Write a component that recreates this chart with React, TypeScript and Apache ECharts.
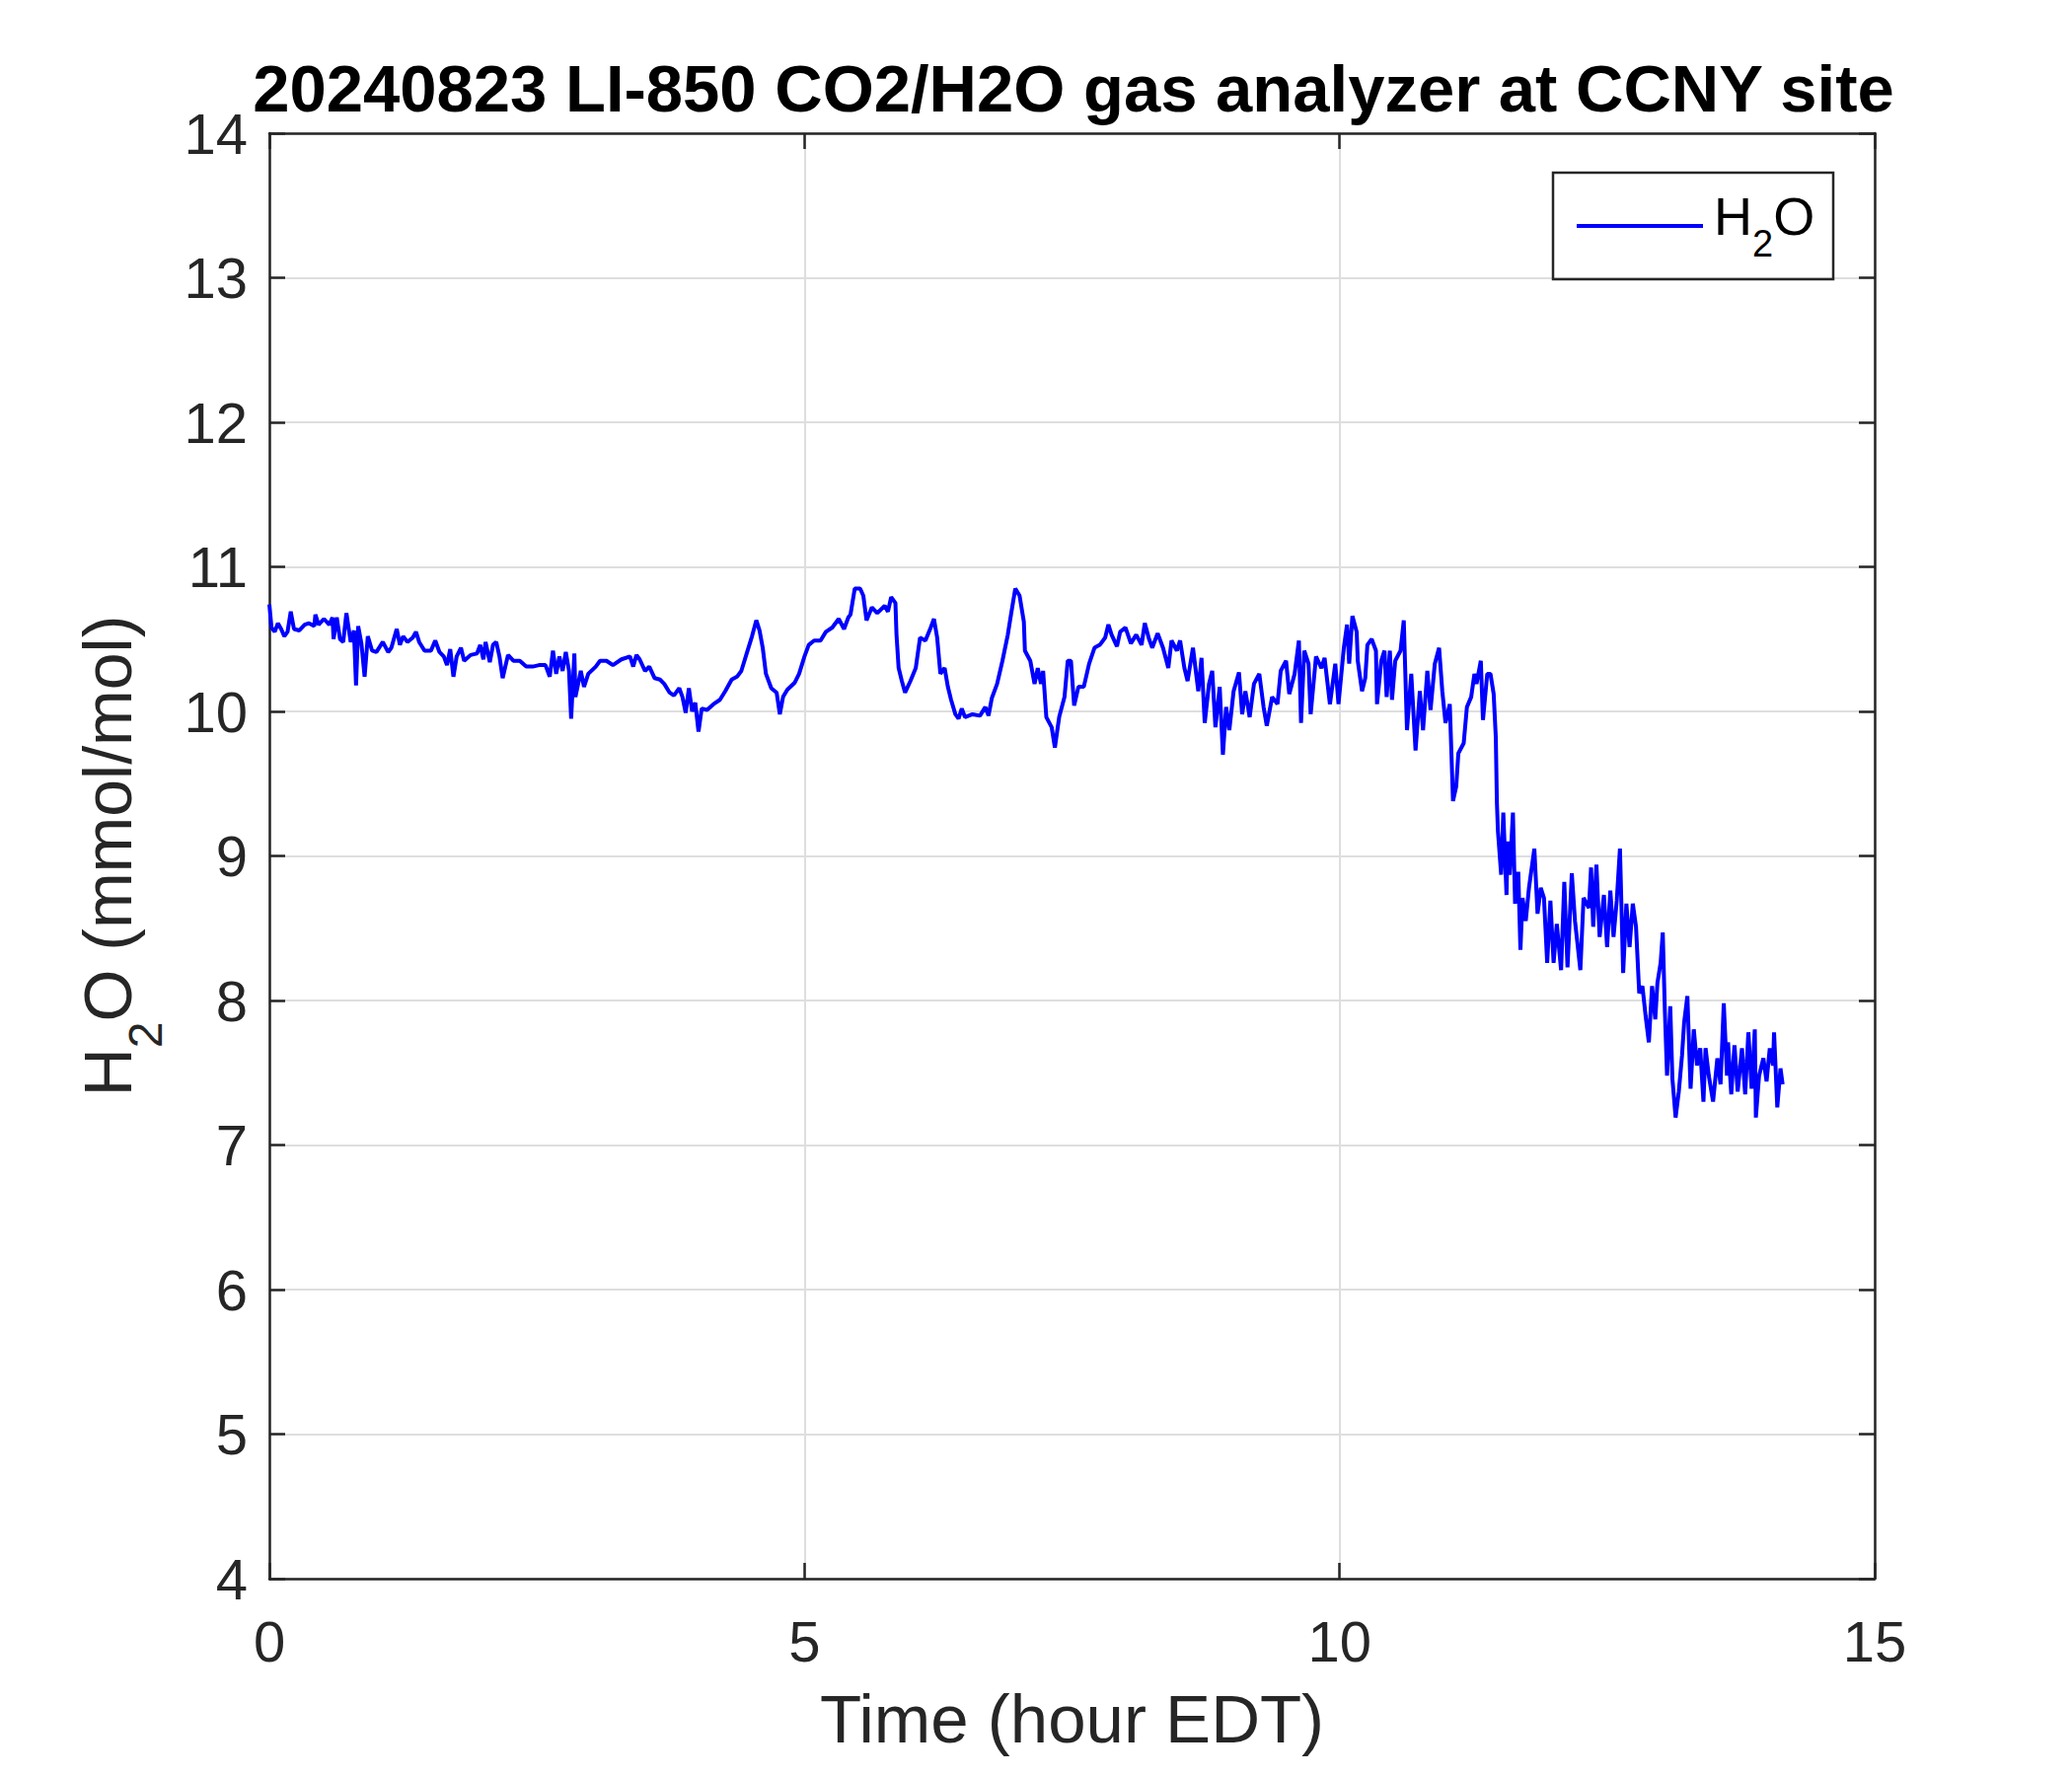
import React, { useEffect, useRef } from "react";
import * as echarts from "echarts";

const chartTitle = "20240823 LI-850 CO2/H2O gas analyzer at CCNY site";
const xAxisTitle = "Time (hour EDT)";
const yAxisTitleRich = "{a|H}{b|2}{a|O (mmol/mol)}";
const legendLabelRich = "{f|H}{b|2}{a|O}";
const seriesName = "H2O";
const xRange = [0, 15];
const xStep = 5;
const yRange = [4, 14];
const yStep = 1;

// [time (hour EDT), H2O (mmol/mol)]
const h2oEarly: [number, number][] = [
  [0.0, 10.74], [0.02, 10.58], [0.05, 10.55], [0.08, 10.61], [0.11, 10.57], [0.14, 10.52], [0.17, 10.55],
  [0.2, 10.69], [0.23, 10.57], [0.28, 10.56], [0.33, 10.6], [0.37, 10.61], [0.42, 10.59], [0.43, 10.67],
  [0.46, 10.6], [0.51, 10.64], [0.56, 10.6], [0.59, 10.65], [0.6, 10.5], [0.63, 10.65], [0.66, 10.5],
  [0.69, 10.48], [0.72, 10.68], [0.76, 10.48], [0.79, 10.56], [0.81, 10.18], [0.83, 10.59], [0.86, 10.47],
  [0.89, 10.24], [0.92, 10.52], [0.96, 10.42], [1.0, 10.41], [1.06, 10.48], [1.11, 10.41], [1.14, 10.44],
  [1.19, 10.57], [1.22, 10.46], [1.25, 10.52], [1.29, 10.48], [1.34, 10.51], [1.37, 10.55], [1.4, 10.48],
  [1.45, 10.42], [1.51, 10.42], [1.55, 10.49], [1.59, 10.41], [1.63, 10.38], [1.66, 10.32], [1.69, 10.43],
  [1.72, 10.24], [1.75, 10.38], [1.79, 10.44], [1.82, 10.35], [1.88, 10.39], [1.94, 10.4], [1.97, 10.46],
  [2.0, 10.36], [2.02, 10.48], [2.06, 10.34], [2.09, 10.46], [2.12, 10.48], [2.15, 10.38], [2.18, 10.23],
  [2.23, 10.39], [2.28, 10.35], [2.34, 10.35], [2.4, 10.31], [2.46, 10.31], [2.52, 10.32], [2.58, 10.32],
  [2.62, 10.24],
];

const h2oLateNight: [number, number][] = [
  [2.65, 10.42], [2.68, 10.26], [2.71, 10.38], [2.74, 10.28], [2.77, 10.41], [2.8, 10.28], [2.82, 9.95],
  [2.85, 10.4], [2.86, 10.1], [2.91, 10.28], [2.94, 10.17], [2.98, 10.26], [3.05, 10.31], [3.09, 10.35],
  [3.15, 10.35], [3.21, 10.32], [3.29, 10.36], [3.37, 10.38], [3.4, 10.31], [3.43, 10.39], [3.46, 10.36],
  [3.51, 10.28], [3.55, 10.31], [3.6, 10.23], [3.65, 10.22], [3.69, 10.19], [3.74, 10.13], [3.78, 10.11],
  [3.83, 10.16], [3.86, 10.1], [3.89, 9.99], [3.92, 10.16], [3.95, 10.0], [3.98, 10.06], [4.01, 9.86],
  [4.04, 10.02], [4.09, 10.01], [4.15, 10.05], [4.21, 10.08], [4.26, 10.14], [4.32, 10.22], [4.37, 10.24],
  [4.41, 10.28], [4.46, 10.4], [4.51, 10.52], [4.55, 10.63], [4.58, 10.56], [4.61, 10.44], [4.64, 10.26],
  [4.69, 10.16], [4.74, 10.13], [4.77, 9.98], [4.8, 10.1], [4.84, 10.15], [4.91, 10.2], [4.95, 10.26],
  [5.0, 10.38], [5.04, 10.46], [5.09, 10.49], [5.15, 10.49], [5.2, 10.55], [5.26, 10.58], [5.32, 10.64],
  [5.37, 10.57], [5.41, 10.65],
];

const h2oMorning: [number, number][] = [
  [5.43, 10.67], [5.47, 10.85], [5.52, 10.85], [5.55, 10.8], [5.58, 10.63],
  [5.63, 10.72], [5.68, 10.68], [5.75, 10.73], [5.78, 10.69], [5.81, 10.79], [5.85, 10.75], [5.86, 10.53],
  [5.88, 10.3], [5.91, 10.21], [5.94, 10.13], [5.99, 10.21], [6.04, 10.3], [6.08, 10.51], [6.13, 10.49],
  [6.18, 10.58], [6.21, 10.64], [6.24, 10.51], [6.27, 10.26], [6.31, 10.3], [6.34, 10.17], [6.37, 10.08],
  [6.41, 9.98], [6.44, 9.95], [6.47, 10.02], [6.5, 9.96], [6.57, 9.98], [6.64, 9.97], [6.69, 10.03],
  [6.72, 9.97], [6.75, 10.09], [6.8, 10.19], [6.85, 10.35], [6.9, 10.53], [6.93, 10.67], [6.97, 10.85],
  [7.01, 10.8], [7.05, 10.62], [7.06, 10.42], [7.11, 10.35], [7.15, 10.19], [7.18, 10.3], [7.21, 10.19],
  [7.23, 10.28], [7.26, 9.96], [7.31, 9.89], [7.34, 9.75], [7.38, 9.96], [7.43, 10.1], [7.46, 10.35],
  [7.49, 10.35], [7.52, 10.04], [7.56, 10.17], [7.61, 10.17], [7.66, 10.33], [7.71, 10.44], [7.76, 10.46],
  [7.81, 10.51], [7.84, 10.6], [7.87, 10.53], [7.92, 10.45], [7.95, 10.55], [8.0, 10.58], [8.05, 10.47],
  [8.1, 10.53], [8.15, 10.46], [8.18, 10.61], [8.22, 10.5], [8.25, 10.44], [8.3, 10.54], [8.35, 10.44],
  [8.4, 10.3], [8.43, 10.49], [8.48, 10.42], [8.51, 10.49], [8.55, 10.3], [8.58, 10.21], [8.63, 10.44],
  [8.68, 10.14], [8.71, 10.37], [8.74, 9.92], [8.78, 10.19], [8.81, 10.28], [8.84, 9.89], [8.88, 10.17],
  [8.91, 9.7], [8.94, 10.03], [8.97, 9.87], [9.01, 10.14], [9.06, 10.27], [9.09, 9.98], [9.12, 10.14],
  [9.16, 9.96], [9.2, 10.19], [9.25, 10.26], [9.29, 10.03], [9.32, 9.9], [9.37, 10.1], [9.42, 10.05],
  [9.45, 10.28], [9.5, 10.35], [9.53, 10.12], [9.58, 10.26], [9.62, 10.49], [9.64, 9.92], [9.67, 10.42],
  [9.71, 10.33], [9.73, 9.98], [9.78, 10.38], [9.83, 10.3], [9.86, 10.37], [9.91, 10.05], [9.96, 10.33],
  [9.99, 10.05],
];

const h2oMidday: [number, number][] = [
  [10.04, 10.44], [10.07, 10.6], [10.09, 10.33], [10.12, 10.66], [10.16, 10.55], [10.17, 10.35],
  [10.21, 10.14], [10.24, 10.23], [10.26, 10.46], [10.3, 10.5], [10.34, 10.42], [10.35, 10.05],
  [10.39, 10.35], [10.42, 10.42], [10.44, 10.1], [10.47, 10.42], [10.49, 10.08], [10.52, 10.35],
  [10.57, 10.42], [10.6, 10.63], [10.63, 9.87], [10.67, 10.26], [10.71, 9.73], [10.75, 10.14],
  [10.78, 9.87], [10.82, 10.28], [10.85, 10.01], [10.89, 10.33], [10.93, 10.44], [10.96, 10.14],
  [10.99, 9.92], [11.03, 10.05], [11.06, 9.38], [11.09, 9.48], [11.11, 9.71], [11.16, 9.78],
  [11.19, 10.03], [11.23, 10.1], [11.26, 10.26], [11.28, 10.19], [11.32, 10.35], [11.34, 9.94],
  [11.38, 10.26], [11.41, 10.26], [11.44, 10.12], [11.46, 9.82], [11.47, 9.37],
];

const h2oAfternoon: [number, number][] = [
  [11.48, 9.17], [11.51, 8.87], [11.53, 9.3], [11.56, 8.73], [11.57, 9.1], [11.59, 8.87], [11.62, 9.3],
  [11.64, 8.67], [11.67, 8.89], [11.69, 8.35], [11.71, 8.71], [11.74, 8.55], [11.77, 8.78], [11.82, 9.05],
  [11.85, 8.6], [11.88, 8.78], [11.91, 8.71], [11.94, 8.26], [11.97, 8.69], [12.0, 8.26], [12.03, 8.53],
  [12.07, 8.21], [12.1, 8.82], [12.13, 8.23], [12.17, 8.88], [12.2, 8.55], [12.25, 8.21], [12.28, 8.71],
  [12.33, 8.64], [12.35, 8.92], [12.37, 8.51], [12.4, 8.94], [12.43, 8.44], [12.47, 8.73], [12.5, 8.37],
  [12.53, 8.76], [12.56, 8.44], [12.59, 8.69], [12.62, 9.05], [12.65, 8.19], [12.68, 8.67], [12.71, 8.37],
  [12.74, 8.67], [12.77, 8.51], [12.8, 8.05], [12.83, 8.1], [12.86, 7.89], [12.89, 7.71], [12.92, 8.1],
  [12.95, 7.87], [12.97, 8.12], [13.0, 8.26], [13.02, 8.47], [13.04, 7.92], [13.06, 7.48], [13.09, 7.96],
  [13.11, 7.46], [13.14, 7.19], [13.17, 7.37], [13.2, 7.62], [13.22, 7.85], [13.25, 8.03], [13.28, 7.39],
  [13.31, 7.8], [13.34, 7.55], [13.37, 7.67], [13.4, 7.3], [13.42, 7.67], [13.45, 7.48], [13.49, 7.3],
  [13.53, 7.6], [13.56, 7.42], [13.59, 7.98], [13.62, 7.48], [13.63, 7.71], [13.66, 7.35], [13.69, 7.69],
  [13.72, 7.37], [13.76, 7.67], [13.79, 7.35], [13.82, 7.78], [13.85, 7.39], [13.88, 7.8], [13.89, 7.19],
  [13.92, 7.48], [13.96, 7.6], [13.99, 7.44], [14.02, 7.67], [14.05, 7.55], [14.06, 7.78], [14.09, 7.26],
  [14.12, 7.53], [14.14, 7.42],
];

const FONT = '"Liberation Sans", Arial, Helvetica, sans-serif';
const AXIS_COLOR = "#262626";
const GRID_COLOR = "#dedede";
const LINE_COLOR = "#0000ff";

export default function App() {
  const ref = useRef<HTMLDivElement>(null);

  useEffect(() => {
    if (!ref.current) return;
    const chart = echarts.init(ref.current, null, { renderer: "svg" });
    const data = [...h2oEarly, ...h2oLateNight, ...h2oMorning, ...h2oMidday, ...h2oAfternoon];

    const axisLine = { show: true, onZero: false, lineStyle: { color: AXIS_COLOR, width: 2.5 } };
    const axisTick = { show: true, inside: true, length: 16, lineStyle: { color: AXIS_COLOR, width: 2.5 } };

    chart.setOption({
      animation: false,
      backgroundColor: "#ffffff",
      grid: { left: 273, right: 200, top: 135, bottom: 200, containLabel: false },
      xAxis: [
        {
          type: "value",
          position: "bottom",
          min: xRange[0],
          max: xRange[1],
          interval: xStep,
          name: xAxisTitle,
          nameLocation: "middle",
          nameGap: 108,
          nameTextStyle: { fontSize: 69, color: AXIS_COLOR, fontFamily: FONT },
          axisLine,
          axisTick,
          axisLabel: { fontSize: 58, color: AXIS_COLOR, fontFamily: FONT, margin: 34 },
          splitLine: { show: true, lineStyle: { color: GRID_COLOR, width: 2 } },
        },
        {
          type: "value",
          position: "top",
          min: xRange[0],
          max: xRange[1],
          interval: xStep,
          axisLine,
          axisTick,
          axisLabel: { show: false },
          splitLine: { show: false },
        },
      ],
      yAxis: [
        {
          type: "value",
          position: "left",
          min: yRange[0],
          max: yRange[1],
          interval: yStep,
          name: yAxisTitleRich,
          nameLocation: "middle",
          nameRotate: 90,
          nameGap: 102,
          nameTextStyle: {
            fontSize: 68,
            color: AXIS_COLOR,
            fontFamily: FONT,
            rich: {
              a: { fontSize: 68, fontFamily: FONT, color: AXIS_COLOR, padding: [0, 0, 28, 0], verticalAlign: "bottom" },
              b: { fontSize: 48, fontFamily: FONT, color: AXIS_COLOR, verticalAlign: "bottom" },
            },
          },
          axisLine,
          axisTick,
          axisLabel: { fontSize: 58, lineHeight: 40, color: AXIS_COLOR, fontFamily: FONT, margin: 22 },
          splitLine: { show: true, lineStyle: { color: GRID_COLOR, width: 2 } },
        },
        {
          type: "value",
          position: "right",
          min: yRange[0],
          max: yRange[1],
          interval: yStep,
          axisLine,
          axisTick,
          axisLabel: { show: false },
          splitLine: { show: false },
        },
      ],
      legend: {
        show: true,
        left: 1598,
        top: 192,
        padding: 0,
        icon: "rect",
        itemWidth: 128,
        itemHeight: 4,
        selectedMode: false,
        itemStyle: { color: LINE_COLOR, borderWidth: 0 },
        data: [{ name: seriesName, icon: "rect" }],
        formatter: () => legendLabelRich,
        textStyle: {
          fontSize: 54,
          color: "#000",
          fontFamily: FONT,
          rich: {
            f: { fontSize: 54, fontFamily: FONT, color: "#000", padding: [0, 0, 20, 6], verticalAlign: "bottom" },
            a: { fontSize: 54, fontFamily: FONT, color: "#000", padding: [0, 0, 20, 0], verticalAlign: "bottom" },
            b: { fontSize: 38, fontFamily: FONT, color: "#000", verticalAlign: "bottom" },
          },
        },
      },
      graphic: [
        {
          type: "text",
          x: 1088,
          y: 89,
          style: {
            text: chartTitle,
            fontSize: 67,
            lineHeight: 44,
            fontWeight: "bold",
            fontFamily: FONT,
            fill: "#000",
            align: "center",
            verticalAlign: "middle",
          },
        },
        {
          type: "rect",
          shape: { x: 1574, y: 175, width: 284, height: 108 },
          style: { fill: "transparent", stroke: AXIS_COLOR, lineWidth: 2.5 },
          z: 10,
        },
      ],
      series: [
        {
          name: seriesName,
          type: "line",
          xAxisIndex: 0,
          yAxisIndex: 0,
          data,
          symbol: "none",
          showSymbol: false,
          lineStyle: { color: LINE_COLOR, width: 4 },
          itemStyle: { color: LINE_COLOR },
        },
      ],
    });

    return () => chart.dispose();
  }, []);

  return (
    <div
      ref={ref}
      style={{ position: "absolute", left: 0, top: 0, width: 2100, height: 1800, background: "#fff" }}
    />
  );
}
